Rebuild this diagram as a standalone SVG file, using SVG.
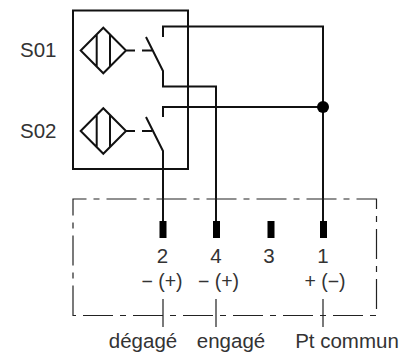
<svg xmlns="http://www.w3.org/2000/svg" width="413" height="353" viewBox="0 0 413 353">
<style>
.w{fill:none;stroke:#111;stroke-width:2}
.f{fill:none;stroke:#111;stroke-width:2}
.d{fill:none;stroke:#222;stroke-width:1.2;stroke-dasharray:30 7 6 7}
.t{fill:none;stroke:#222;stroke-width:1.2}
.p{fill:#000}
text{font-family:"Liberation Sans",Arial,sans-serif;fill:#333;font-size:20.5px}
.m{text-anchor:middle}
.s{font-size:19.5px}
</style>
<rect width="413" height="353" fill="#fff"/>
<g id="connectors">
<path class="w" d="M163 37V26.500H323V221"/>
<path class="w" d="M146 37L163 71V86.500H216V221"/>
<path class="w" d="M163 117V107H323"/>
<path class="w" d="M146 117L163 151V221"/>
<path class="t" d="M163 299V327M216 299V327M323 299V327"/>
</g>
<g id="housing"><rect class="f" x="73" y="10.500" width="115" height="158.500"/></g>
<g id="S01">
<path class="w" d="M80.700 50.500L103.300 27.700L126 50.500L103.300 73.300ZM96.700 34V67M110 34V67M126 50.500H135M142 50.500H152"/>
<text x="20" y="57">S01</text>
</g>
<g id="S02">
<path class="w" d="M80.700 131L103.300 108.200L126 131L103.300 153.800ZM96.700 114.500V147.500M110 114.500V147.500M126 131H135M142 131H152"/>
<text x="20" y="137.600">S02</text>
</g>
<g id="junction"><circle class="p" cx="323" cy="107" r="6"/></g>
<g id="connector-box"><path class="d" d="M73 315.500V199H376.500V315.500Z"/></g>
<g id="terminal-2"><rect class="p" x="159.500" y="221" width="7" height="17"/><text class="m" x="162.500" y="263">2</text><text class="m s" x="162" y="288">− (+)</text><text class="m" x="143" y="348">dégagé</text></g>
<g id="terminal-4"><rect class="p" x="213" y="221" width="7" height="17"/><text class="m" x="216" y="263">4</text><text class="m s" x="218.500" y="288">− (+)</text><text class="m" x="231" y="348">engagé</text></g>
<g id="terminal-3"><rect class="p" x="267.500" y="221" width="7" height="17"/><text class="m" x="269" y="263">3</text></g>
<g id="terminal-1"><rect class="p" x="320" y="221" width="7" height="17"/><text class="m" x="323" y="263">1</text><text class="m s" x="325" y="288">+ (−)</text><text class="m" x="347" y="348">Pt commun</text></g>
</svg>
